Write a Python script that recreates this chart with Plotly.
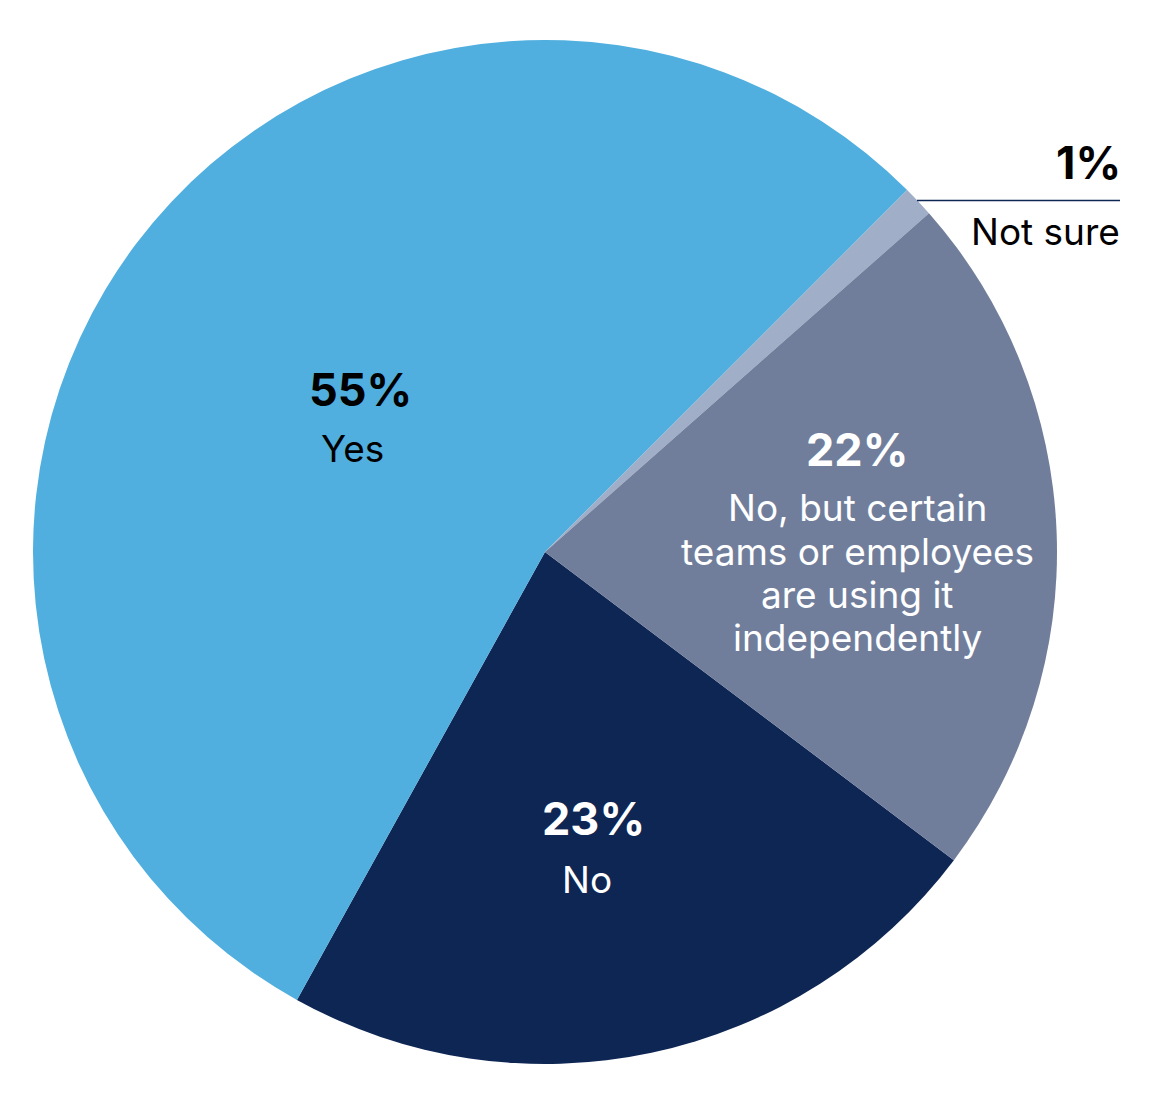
import plotly.graph_objects as go

# ---- data ----
labels = ["No", "Yes", "Not sure", "No, but certain teams or employees are using it independently"]
values = [23, 55, 1, 22]
colors = ["#0E2654", "#50AFDF", "#A0AEC8", "#707E9C"]
label_lines = [["No"], ["Yes"], ["Not sure"],
               ["No, but certain", "teams or employees", "are using it", "independently"]]
text_colors = ["#FFFFFF", "#000000", "#000000", "#FFFFFF"]

W, H = 1160, 1102
FONT = "Inter, 'Noto Sans', sans-serif"

fig = go.Figure(go.Pie(
    labels=labels,
    values=values,
    marker=dict(colors=colors, line=dict(width=0)),
    sort=False,
    direction="clockwise",
    rotation=127,
    textinfo="none",
    hoverinfo="label+percent",
    showlegend=False,
    domain=dict(x=[33 / W, 1057 / W], y=[1 - 1064 / H, 1 - 40 / H]),
))

# label placement (pixel positions in the figure)
pct_pos = [(593, 818, "center"), (360, 389, "center"), (1123, 162, "right"), (857, 449, "center")]
lab_pos = [(587, 879, "center"), (352, 448, "center"), (1122, 231, "right"), (857, 508, "center")]
LINE_STEP = 43

for i in range(len(labels)):
    px, py, al = pct_pos[i]
    fig.add_annotation(
        x=px / W, y=1 - py / H, xref="paper", yref="paper",
        xanchor="right" if al == "right" else "center", yanchor="middle",
        text=f"<b>{values[i]}%</b>", showarrow=False,
        font=dict(family=FONT, size=45, color=text_colors[i]),
    )
    lx, ly, al = lab_pos[i]
    for j, line in enumerate(label_lines[i]):
        fig.add_annotation(
            x=lx / W, y=1 - (ly + j * LINE_STEP) / H, xref="paper", yref="paper",
            xanchor="right" if al == "right" else "center", yanchor="middle",
            text=line, showarrow=False, align="center",
            font=dict(family=FONT, size=37, color=text_colors[i]),
        )

# leader line for "Not sure"
fig.add_shape(type="line", xref="paper", yref="paper",
              x0=917 / W, x1=1120 / W, y0=1 - 200.5 / H, y1=1 - 200.5 / H,
              line=dict(color="#0E2654", width=1.3))

fig.update_layout(
    width=W, height=H,
    margin=dict(l=0, r=0, t=0, b=0),
    paper_bgcolor="#FFFFFF",
    plot_bgcolor="#FFFFFF",
    font=dict(family=FONT),
)

fig.write_html("out.html")
